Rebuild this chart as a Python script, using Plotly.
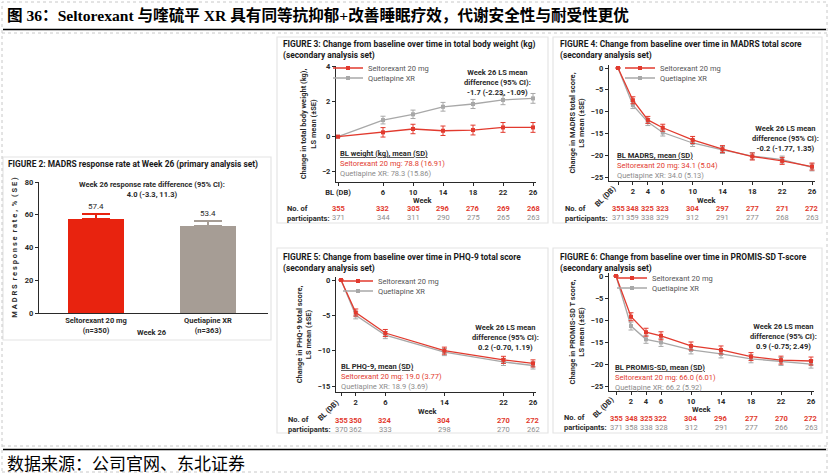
import plotly.graph_objects as go

W, H = 829, 475

RED = '#E23A2E'
GREY = '#A8A8A8'
BAR_RED = '#E8230F'
BAR_GREY = '#A69D95'
DARK = '#2a2a2a'
TXT_GREY = '#8c8c8c'
FONT = 'Roboto'

# ---- Figure 2: MADRS response rate
bar_groups = ['Seltorexant 20 mg', 'Quetiapine XR']
bar_n = ['(n=350)', '(n=363)']
bar_rate = [57.4, 53.4]
bar_se = [3.0, 2.8]

# ---- Figure 3: body weight
wt_weeks = [0, 6, 10, 14, 18, 22, 26]
wt_selt = [0, 0.25, 0.44, 0.34, 0.38, 0.53, 0.53]
wt_selt_se = [0, 0.27, 0.27, 0.27, 0.28, 0.28, 0.28]
wt_quet = [0, 0.95, 1.28, 1.71, 1.87, 2.10, 2.19]
wt_quet_se = [0, 0.22, 0.24, 0.25, 0.26, 0.27, 0.28]
wt_n_selt = [355, 332, 305, 296, 276, 269, 268]
wt_n_quet = [371, 344, 311, 290, 275, 265, 263]

# ---- Figure 4: MADRS total score
md_weeks = [0, 2, 4, 6, 10, 14, 18, 22, 26]
md_selt = [0, -7.4, -11.9, -13.7, -16.5, -18.6, -20.3, -21.3, -22.6]
md_quet = [0, -8.5, -12.4, -14.8, -17.2, -18.8, -20.2, -21.0, -22.8]
md_se = [0, 0.8, 0.8, 0.8, 0.8, 0.8, 0.8, 0.8, 0.8]
md_n_selt = [355, 348, 325, 323, 304, 297, 277, 271, 272]
md_n_quet = [371, 359, 338, 329, 312, 291, 277, 268, 263]

# ---- Figure 5: PHQ-9 total score
phq_weeks = [0, 2, 6, 14, 22, 26]
phq_selt = [0, -4.6, -7.5, -10.0, -11.3, -11.8]
phq_quet = [0, -5.0, -7.8, -10.2, -11.6, -12.1]
phq_se = [0, 0.5, 0.5, 0.5, 0.5, 0.5]
phq_n_selt = [355, 350, 324, 304, 270, 272]
phq_n_quet = [370, 362, 333, 298, 270, 262]

# ---- Figure 6: PROMIS-SD T-score
pr_weeks = [0, 2, 4, 6, 10, 14, 18, 22, 26]
pr_selt = [0, -9.2, -12.7, -13.5, -15.8, -16.7, -18.2, -19.0, -19.2]
pr_quet = [0, -11.3, -14.3, -15.0, -16.7, -17.6, -18.7, -19.3, -19.9]
pr_se = [0, 0.9, 0.9, 0.9, 0.9, 0.9, 0.9, 0.9, 0.9]
pr_n_selt = [355, 348, 325, 322, 304, 296, 277, 270, 272]
pr_n_quet = [371, 358, 338, 328, 312, 291, 277, 266, 263]


def px(x):
    return x / W


def py(y):
    return 1 - y / H


def calib(p_lo, p_hi, va, pa, vb, pb):
    k = (vb - va) / (pb - pa)
    return [va + (p_lo - pa) * k, va + (p_hi - pa) * k]


def note(x, y, text, size=7.5, color=DARK, bold=False, xanchor='center', yanchor='middle',
         align='center', family=FONT, **kw):
    fig.add_annotation(x=px(x), y=py(y), xref='paper', yref='paper', text=text,
                       showarrow=False, xanchor=xanchor, yanchor=yanchor, align=align,
                       font=dict(family=family, size=size, color=color,
                                 weight='bold' if bold else 'normal'), **kw)


fig = go.Figure()

axis_common = dict(showline=True, linecolor=DARK, linewidth=1.3, ticks='outside',
                   ticklen=3, tickwidth=1.2, tickcolor=DARK, showgrid=False,
                   zeroline=False, fixedrange=True, automargin=False,
                   tickfont=dict(family=FONT, size=7.5, color=DARK, weight='bold'))

# ---------------- Figure 2 bars
for i, (g, v, e, c) in enumerate(zip(bar_groups, bar_rate, bar_se, [BAR_RED, BAR_GREY])):
    fig.add_trace(go.Bar(x=[i], y=[v], width=0.5, marker_color=c, marker_line_width=0,
                         showlegend=False,
                         error_y=dict(type='data', array=[e], arrayminus=[0], symmetric=False,
                                      color=c, thickness=1.2, width=14),
                         xaxis='x', yaxis='y'))
    fig.add_annotation(x=i, y=v + e, xref='x', yref='y', text=f'{v}', showarrow=False,
                       yanchor='bottom', yshift=1, font=dict(family=FONT, size=8, color=DARK))

x2_common = {k: v for k, v in axis_common.items() if k != 'ticks'}
fig.update_layout(
    xaxis=dict(domain=[px(39), px(268)], range=calib(39, 268, 0, 96, 1, 208),
               tickvals=[0, 1], ticktext=[f'{g}<br>{n}' for g, n in zip(bar_groups, bar_n)],
               ticks='', anchor='y', **x2_common),
    yaxis=dict(domain=[py(313), py(182)], range=[0, 80], tickvals=[0, 20, 40, 60, 80],
               anchor='x',
               title=dict(text='M A D R S  r e s p o n s e  r a t e ,  %  ( S E )',
                          font=dict(family=FONT, size=7.5, color=DARK, weight='bold'),
                          standoff=6),
               **axis_common),
)
note(152, 332, 'Week 26', bold=True)
note(152, 189, 'Week 26 response rate difference (95% CI):<br>4.0 (-3.3, 11.3)', bold=True)


# ---------------- line panels
leg_count = [0]


def new_legend(x, y):
    leg_count[0] += 1
    name = 'legend' if leg_count[0] == 1 else f'legend{leg_count[0]}'
    fig.update_layout(**{name: dict(x=px(x), y=py(y), xanchor='left', yanchor='middle',
                                    bgcolor='rgba(0,0,0,0)', itemwidth=30,
                                    font=dict(family=FONT, size=7.5, color='#555555'))})
    return name


def line_panel(idx, weeks, selt, selt_se, quet, quet_se, n_selt, n_quet,
               xdom, xcal, ydom, ycal, yticks, ytitle, legpos, diff_txt, diff_pos,
               bl_txt, bl_pos, npos, rot_bl, bl_rot_pos, week_pos):
    xa, ya = f'x{idx}', f'y{idx}'
    leg_selt = new_legend(legpos[0], legpos[1])
    leg_quet = new_legend(legpos[0], legpos[1] + 10)
    for name, vals, se, col, leg in [('Quetiapine XR', quet, quet_se, GREY, leg_quet),
                                     ('Seltorexant 20 mg', selt, selt_se, RED, leg_selt)]:
        fig.add_trace(go.Scatter(
            x=weeks, y=vals, name=name, mode='lines+markers', legend=leg,
            line=dict(color=col, width=1.3),
            marker=dict(symbol='square', size=4, color=col),
            error_y=dict(type='data', array=se, color=col, thickness=1, width=2.5),
            xaxis=xa, yaxis=ya))
    ticktext = ['' if rot_bl else 'BL (DB)'] + [str(w) for w in weeks[1:]]
    fig.update_layout(**{
        f'xaxis{idx}': dict(domain=[px(xdom[0]), px(xdom[1])],
                            range=calib(xdom[0], xdom[1], *xcal),
                            tickvals=weeks, ticktext=ticktext, anchor=ya, **axis_common),
        f'yaxis{idx}': dict(domain=[py(ydom[1]), py(ydom[0])],
                            range=calib(ydom[1], ydom[0], *ycal),
                            tickvals=yticks, anchor=xa,
                            title=dict(text=ytitle, standoff=4,
                                       font=dict(family=FONT, size=7.5, color=DARK,
                                                 weight='bold')),
                            **axis_common),
    })
    note(diff_pos[0], diff_pos[1], diff_txt, bold=True)
    note(bl_pos[0], bl_pos[1], bl_txt, xanchor='left', yanchor='top', align='left')
    note(npos[0], npos[1], 'No. of<br>participants:', bold=True, xanchor='left', align='left')
    for w, a, b in zip(weeks, n_selt, n_quet):
        fig.add_annotation(x=w, y=py(npos[1] - 4.5), xref=xa, yref='paper', text=str(a),
                           showarrow=False, yanchor='middle',
                           font=dict(family=FONT, size=7.5, color=RED, weight='bold'))
        fig.add_annotation(x=w, y=py(npos[1] + 4.5), xref=xa, yref='paper', text=str(b),
                           showarrow=False, yanchor='middle',
                           font=dict(family=FONT, size=7.5, color=TXT_GREY))
    if rot_bl:
        note(bl_rot_pos[0], bl_rot_pos[1], 'BL (DB)', bold=True, textangle=-45)
    note(week_pos[0], week_pos[1], 'Week', bold=True)


def bl_block(title, selt_txt, quet_txt):
    return (f'<b><u>{title}</u></b><br><span style="color:{RED}">{selt_txt}</span>'
            f'<br><span style="color:{TXT_GREY}">{quet_txt}</span>')


diff_head = 'Week 26 LS mean<br>difference (95% CI):<br>'

line_panel(2, wt_weeks, wt_selt, wt_selt_se, wt_quet, wt_quet_se, wt_n_selt, wt_n_quet,
           (336, 536), (0, 338, 26, 533), (66, 182), (4, 66.7, -2, 171.7), [-2, 0, 2, 4],
           'Change in total body weight (kg),<br>LS mean (±SE)', (328, 68),
           diff_head + '-1.7 (-2.23, -1.09)', (497, 82),
           bl_block('BL weight (kg), mean (SD)', 'Seltorexant 20 mg: 78.8 (16.91)',
                    'Quetiapine XR: 78.3 (15.86)'), (338, 147), (285, 213.5), False,
           None, (423, 200))

line_panel(3, md_weeks, md_selt, md_se, md_quet, md_se, md_n_selt, md_n_quet,
           (609, 815), (0, 618, 26, 812), (65, 181), (0, 68, -25, 177),
           [-25, -20, -15, -10, -5, 0],
           'Change in MADRS total score,<br>LS mean (±SE)', (620, 68),
           diff_head + '-0.2 (-1.77, 1.35)', (785, 138),
           bl_block('BL MADRS, mean (SD)', 'Seltorexant 20 mg: 34.1 (5.04)',
                    'Quetiapine XR: 34.0 (5.13)'), (615, 149), (563, 213.5), True,
           (605, 196), (707, 200))

line_panel(4, phq_weeks, phq_selt, phq_se, phq_quet, phq_se, phq_n_selt, phq_n_quet,
           (336, 536), (0, 341, 26, 533), (277, 392), (0, 280, -15, 386),
           [-15, -10, -5, 0],
           'Change in PHQ-9 total score,<br>LS mean (±SE)', (338, 281),
           diff_head + '0.2 (-0.70, 1.19)', (505, 337),
           bl_block('BL PHQ-9, mean (SD)', 'Seltorexant 20 mg: 19.0 (3.77)',
                    'Quetiapine XR: 18.9 (3.69)'), (339, 360), (286, 424.5), True,
           (328, 410), (428, 411))

line_panel(5, pr_weeks, pr_selt, pr_se, pr_quet, pr_se, pr_n_selt, pr_n_quet,
           (609, 814), (0, 616, 26, 811), (273, 391), (0, 276, -25, 386.7),
           [-25, -20, -15, -10, -5, 0],
           'Change in PROMIS-SD T score,<br>LS mean (±SE)', (612, 278),
           diff_head + '0.9 (-0.75; 2.49)', (783, 336),
           bl_block('BL PROMIS-SD, mean (SD)', 'Seltorexant 20 mg: 66.0 (6.01)',
                    'Quetiapine XR: 66.2 (5.92)'), (613, 361), (562, 422.5), True,
           (603, 407), (702, 409))

# panel titles
panel_titles = [
    (6, 165, 'FIGURE 2: MADRS response rate at Week 26 (primary analysis set)'),
    (281, 49.5, 'FIGURE 3: Change from baseline over time in total body weight (kg)'
                '<br>(secondary analysis set)'),
    (558, 49.5, 'FIGURE 4: Change from baseline over time in MADRS total score'
                '<br>(secondary analysis set)'),
    (281, 263, 'FIGURE 5: Change from baseline over time in PHQ-9 total score'
               '<br>(secondary analysis set)'),
    (558, 263, 'FIGURE 6: Change from baseline over time in PROMIS-SD T-score'
               '<br>(secondary analysis set)'),
]
for x, y, t in panel_titles:
    note(x, y, t, size=8.4, color='#1a1a1a', bold=True, xanchor='left', align='left')

# page title and source
note(5, 15, '图 36：Seltorexant 与喹硫平 XR 具有同等抗抑郁+改善睡眠疗效，代谢安全性与耐受性更优',
     size=15.6, color='black', bold=True, xanchor='left',
     family='Liberation Serif, Noto Sans CJK SC')
note(5, 462, '数据来源：公司官网、东北证券', size=17, color='black', xanchor='left',
     family='Noto Sans CJK SC')

P = dict(xref='paper', yref='paper')
shapes = [
    dict(type='rect', x0=px(2), x1=px(827), y0=py(472), y1=py(2),
         line=dict(color='#c8c8c8', width=1, dash='dot'), **P),
    dict(type='line', x0=px(2), x1=px(827), y0=py(33), y1=py(33),
         line=dict(color='#c8c8c8', width=1, dash='dot'), **P),
    dict(type='line', x0=px(2), x1=px(827), y0=py(446), y1=py(446),
         line=dict(color='#c8c8c8', width=1, dash='dot'), **P),
    dict(type='line', x0=px(3), x1=px(826), y0=py(29.5), y1=py(29.5),
         line=dict(color='black', width=1.6), **P),
    dict(type='line', x0=px(3), x1=px(826), y0=py(449.5), y1=py(449.5),
         line=dict(color='black', width=1.6), **P),
]
for x0, y0, x1, y1 in [(3, 157, 271, 340), (277, 37, 548, 223), (553, 37, 822, 223),
                       (277, 248, 548, 433), (553, 248, 822, 433)]:
    shapes.append(dict(type='rect', x0=px(x0), x1=px(x1), y0=py(y1), y1=py(y0),
                       line=dict(color='#e4e4e4', width=1.2), layer='below', **P))

fig.update_layout(
    template='none',
    width=W, height=H, margin=dict(l=0, r=0, t=0, b=0, autoexpand=False),
    paper_bgcolor='white', plot_bgcolor='white',
    font=dict(family=FONT, color=DARK),
    shapes=shapes, bargap=0,
)

fig.write_html('out.html', config={'displayModeBar': False},
               post_script="document.body.style.margin='0px';"
                           "document.body.style.overflow='hidden';")
